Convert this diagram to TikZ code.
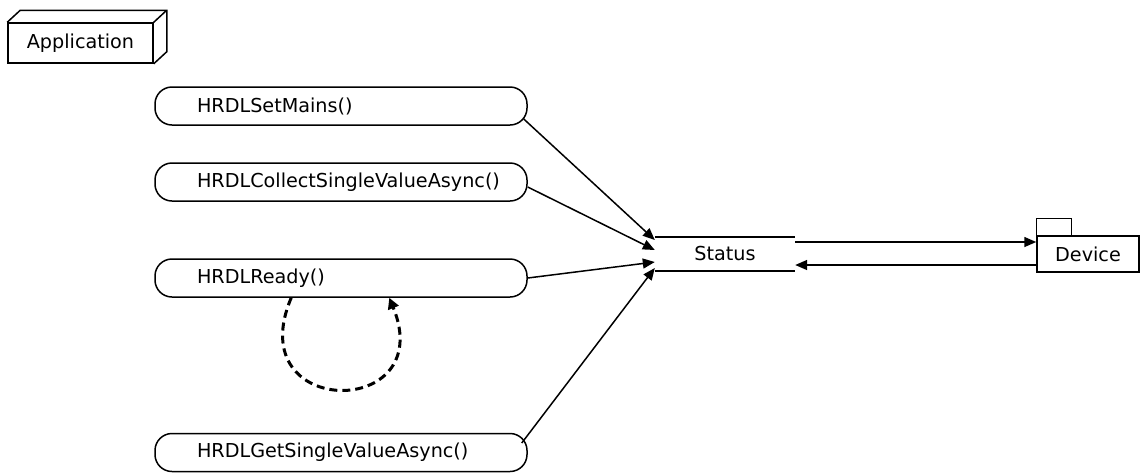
\documentclass[tikz,border=0pt]{standalone}
\usepackage{fontspec}
\setmainfont{DejaVu Sans}
\usetikzlibrary{arrows.meta,calc,positioning}

\tikzset{
  call/.style={draw, line width=1.5pt, rounded corners=17pt, minimum height=38pt,
               text width=288pt, inner xsep=42pt, align=left},
  box/.style={draw, line width=1.5pt, inner sep=0pt},
  link/.style={line width=1.5pt, -{Triangle[length=12pt,width=10pt]}},
}

\begin{document}
\begin{tikzpicture}[x=1pt,y=-1pt,font=\fontsize{19.2}{22}\selectfont]
\useasboundingbox (0,0) rectangle (1140,475);

% application
\node[box, minimum width=145pt, minimum height=40pt] (app) at (80.5,43) {Application};
\draw[line width=1.5pt] (app.north west) -- ++(13,-12) -| ($(app.south east)+(13,-12)$) -- (app.south east)
      (app.north east) -- ++(13,-12);

% calls
\node[call] (set) at (341,106) {HRDLSetMains()};
\node[call] (col) at (341,182) {HRDLCollectSingleValueAsync()};
\node[call] (rdy) at (341,278) {HRDLReady()};
\node[call] (get) at (341,452.5) {HRDLGetSingleValueAsync()};

% status
\node[minimum width=140pt, minimum height=34pt, inner sep=0pt] (st) at (725,254) {Status};
\draw[line width=1.5pt] (st.north west) -- (st.north east)
      (st.south west) -- (st.south east);

% device
\node[box, minimum width=102pt, minimum height=36pt] (dev) at (1088,254) {Device};
\draw[line width=1.5pt] (dev.north west) -- ++(0,-17) -- ++(35,0) -- ++(0,17);

\draw[link] ($(set.east)+(-4,13)$) -- ($(st.west)+(0,-14)$);
\draw[link] ($(col.east)+(0,5)$) -- ($(st.west)+(0,-4)$);
\draw[link] (rdy.east) -- ($(st.west)+(0,8)$);
\draw[link] ($(get.east)+(-6,-9.5)$) -- ($(st.west)+(0,14)$);

\draw[link] ($(st.east)+(0,-12)$) -- ($(dev.west)+(0,-12)$);
\draw[link] ($(dev.west)+(0,11)$) -- ($(st.east)+(0,11)$);

% self loop
\draw[line width=3pt, dash pattern=on 8pt off 5pt, -{Triangle[length=11pt,width=11pt]}]
  ($(rdy.south west)+(137,0)$) .. controls +(-52,122) and +(50,122) .. ($(rdy.south west)+(235,0)$);
\end{tikzpicture}
\end{document}
